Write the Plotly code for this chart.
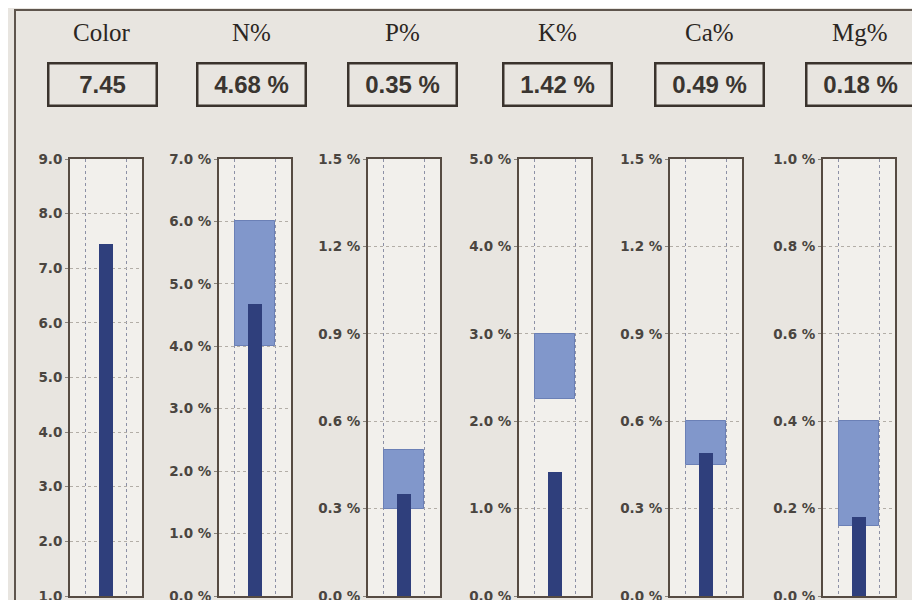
import plotly.graph_objects as go

# ---- data ----
labels = ["Color", "N%", "P%", "K%", "Ca%", "Mg%"]
values = [7.45, 4.68, 0.35, 1.42, 0.49, 0.18]
band_low = [None, 4.0, 0.30, 2.25, 0.45, 0.16]
band_high = [None, 6.0, 0.50, 3.0, 0.60, 0.40]
axis_min = [1.0, 0.0, 0.0, 0.0, 0.0, 0.0]
axis_max = [9.0, 7.0, 1.5, 5.0, 1.5, 1.0]
axis_step = [1.0, 1.0, 0.3, 1.0, 0.3, 0.2]
tick_suffix = ["", " %", " %", " %", " %", " %"]
value_text = ["7.45", "4.68 %", "0.35 %", "1.42 %", "0.49 %", "0.18 %"]

# ---- layout constants (screen pixels in the 920x600 window) ----
OX, OY = 8, 8              # default page margin of the html body
W, H = 920 - OX, 600 - OY  # figure size so it fits the window exactly
panel_left = [70, 219, 368, 519, 670, 823]
panel_w = 72
plot_top, plot_bottom = 159, 596
box_centers = [102, 251, 402, 557, 709, 860]
title_y, box_y = 32, 84.5


def px(sx):
    return (sx - OX) / W


def py(sy):
    return 1 - (sy - OY) / H


PAGE_BG = "#e8e5e0"
PLOT_BG = "#f2f0ec"
FRAME = "#564b42"
BAR = "#2f3f7c"
BAND = "#8197cb"
BAND_EDGE = "#6b80b6"

fig = go.Figure()

for i in range(6):
    xa = "x" if i == 0 else f"x{i+1}"
    ya = "y" if i == 0 else f"y{i+1}"
    if band_low[i] is not None:
        fig.add_trace(go.Bar(
            x=[0.5], y=[band_high[i] - band_low[i]], base=[band_low[i]],
            width=0.56, marker=dict(color=BAND, line=dict(color=BAND_EDGE, width=1)),
            xaxis=xa, yaxis=ya, showlegend=False, hoverinfo="skip"))
    fig.add_trace(go.Bar(
        x=[0.5], y=[values[i] - axis_min[i]], base=[axis_min[i]],
        width=0.19, marker=dict(color=BAR, line=dict(width=0)),
        xaxis=xa, yaxis=ya, showlegend=False, name=labels[i]))

    n = int(round((axis_max[i] - axis_min[i]) / axis_step[i]))
    tickvals = [round(axis_min[i] + k * axis_step[i], 4) for k in range(n + 1)]
    ticktext = [f"<b>{v:.1f}{tick_suffix[i]}</b>" for v in tickvals]
    xkey = "xaxis" if i == 0 else f"xaxis{i+1}"
    ykey = "yaxis" if i == 0 else f"yaxis{i+1}"
    fig.update_layout(**{
        xkey: dict(domain=[px(panel_left[i]), px(panel_left[i] + panel_w)],
                   range=[0, 1], anchor=ya, automargin=False,
                   tickvals=[0.22, 0.78], showticklabels=False, ticks="",
                   showgrid=True, gridcolor="#8d91a6", griddash="dot", gridwidth=1,
                   showline=True, linecolor=FRAME, linewidth=2, mirror=True,
                   zeroline=False, fixedrange=True),
        ykey: dict(domain=[py(plot_bottom), py(plot_top)],
                   range=[axis_min[i], axis_max[i]], anchor=xa, automargin=False,
                   tickmode="array", tickvals=tickvals, ticktext=ticktext,
                   ticks="outside", ticklen=3, tickcolor="#8a847c",
                   ticklabeloverflow="allow",
                   tickfont=dict(family="DejaVu Sans, Verdana", size=13.5, color="#4a4540"),
                   showgrid=True, gridcolor="#b3aea7", griddash="dot", gridwidth=1,
                   showline=True, linecolor=FRAME, linewidth=2, mirror=True,
                   zeroline=False, fixedrange=True),
    })

annotations = []
for i in range(6):
    annotations.append(dict(
        x=px(box_centers[i]), y=py(title_y), xref="paper", yref="paper",
        text=labels[i], showarrow=False, xanchor="center", yanchor="middle",
        font=dict(family="Liberation Serif, Times New Roman", size=25, color="#2b2622")))
    annotations.append(dict(
        x=px(box_centers[i]), y=py(box_y), xref="paper", yref="paper",
        text="<b>" + value_text[i] + "</b>", showarrow=False,
        xanchor="center", yanchor="middle",
        width=104, height=38, borderpad=1, borderwidth=2.5, bordercolor="#3a332d",
        bgcolor=PAGE_BG,
        font=dict(family="Liberation Sans, Arial", size=24, color="#3a3530")))

shapes = [dict(type="rect", xref="paper", yref="paper",
               x0=px(15), x1=px(930), y0=py(610), y1=py(10),
               line=dict(color="#5e554d", width=2), fillcolor="rgba(0,0,0,0)", layer="below")]

fig.update_layout(
    width=W, height=H, margin=dict(l=0, r=0, t=0, b=0, autoexpand=False),
    paper_bgcolor=PAGE_BG, plot_bgcolor=PLOT_BG,
    barmode="overlay", bargap=0, showlegend=False,
    annotations=annotations, shapes=shapes,
)

fig.write_html("out.html")
